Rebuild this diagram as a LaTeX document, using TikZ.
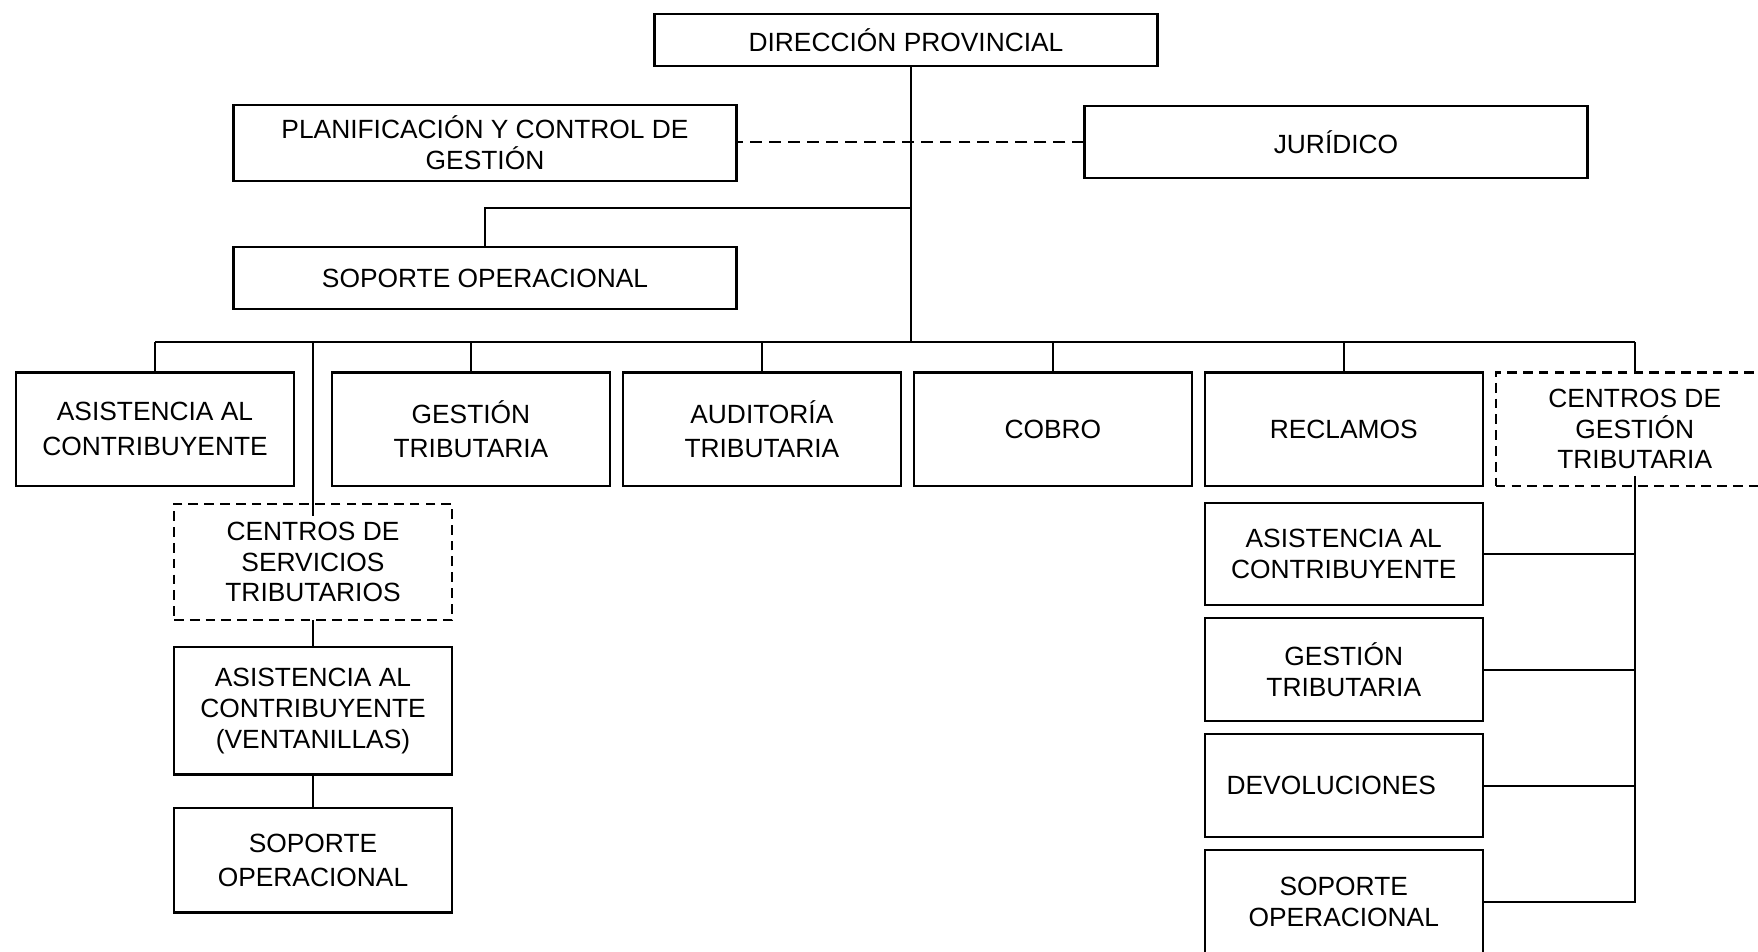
\documentclass[tikz,border=0pt]{standalone}
\usepackage{fontspec}
\setmainfont{Liberation Sans}
\usetikzlibrary{positioning}

\begin{document}
\begin{tikzpicture}[x=0.02cm, y=-0.02cm, semithick, node distance=0.26cm]
\tikzstyle{box}=[draw, rectangle, line width=1.4pt, outer sep=0pt, align=center, minimum width=5.56cm, minimum height=2.27cm, inner sep=0pt, font=\fontsize{15}{17.5}\selectfont]
\tikzstyle{dbox}=[box, dash pattern=on 5.5pt off 3.5pt]
\tikzstyle{wide}=[box, minimum width=10.07cm]
\tikzstyle{loose}=[font=\fontsize{15}{19.5}\selectfont]
\tikzstyle{link}=[line width=1.2pt]

\useasboundingbox (0,0) rectangle (1758,951);
\clip (0,0) rectangle (1758,951);

% top
\node[wide, minimum height=1.05cm] (dir) at (906,40)  {DIRECCIÓN PROVINCIAL};
\node[wide, minimum height=1.52cm] (plan) at (485,143) {PLANIFICACIÓN Y CONTROL DE\\GESTIÓN};
\node[wide, minimum height=1.44cm] (jur) at (1336,142) {JURÍDICO};
\node[wide, minimum height=1.23cm] (sop) at (485,278) {SOPORTE OPERACIONAL};

% main row
\node[box, loose] (asis) at (155,429)        {ASISTENCIA AL\\CONTRIBUYENTE};
\node[box, loose] (gest) [right=0.76cm of asis] {GESTIÓN\\TRIBUTARIA};
\node[box, loose] (aud)  [right=of gest]    {AUDITORÍA\\TRIBUTARIA};
\node[box]        (cobro)[right=of aud]     {COBRO};
\node[box]        (recl) [right=of cobro]   {RECLAMOS};
\node[dbox]       (cgt)  [right=of recl]    {CENTROS DE\\GESTIÓN\\TRIBUTARIA};

% left column
\node[dbox, minimum height=2.33cm] (cst) at (313,562) {CENTROS DE\\SERVICIOS\\TRIBUTARIOS};
\node[box, minimum height=2.55cm]  (vent) [below=0.54cm of cst] {ASISTENCIA AL\\CONTRIBUYENTE\\(VENTANILLAS)};
\node[box, loose, minimum height=2.09cm] (sopl) [below=0.67cm of vent] {SOPORTE\\OPERACIONAL};

% right column
\node[box, minimum height=2.04cm] (asisr) [below=0.35cm of recl] {ASISTENCIA AL\\CONTRIBUYENTE};
\node[box, minimum height=2.06cm] (gestr) [below=of asisr] {GESTIÓN\\TRIBUTARIA};
\node[box, minimum height=2.06cm] (devr)  [below=of gestr] {DEVOLUCIONES\hspace*{0.5cm}};
\node[box, minimum height=2.06cm] (sopr)  [below=of devr]  {SOPORTE\\OPERACIONAL};

\coordinate (bus) at (911,342);
\coordinate (fork) at (911,208);

\draw[link] (dir.south -| bus) -- (bus);
\draw[link, dash pattern=on 6.8pt off 4pt] (jur.west) -- (jur.west -| plan.east);
\draw[link] (fork) -| (sop.north);

\draw[link] (asis.north |- bus) -- (cgt.north |- bus);
\foreach \n in {asis,gest,aud,cobro,recl,cgt}
  \draw[link] (\n.north |- bus) -- (\n.north);

\draw[link] (cst.north |- bus) -- ([yshift=-0.24cm]cst.north);
\draw[link] (cst.south) -- (vent.north);
\draw[link] (vent.south) -- (sopl.north);

\draw[link] ([yshift=0.2cm]cgt.south) |- (sopr.east);
\foreach \n in {asisr,gestr,devr}
  \draw[link] (\n.east) -- (\n.east -| cgt.south);

\end{tikzpicture}
\end{document}
